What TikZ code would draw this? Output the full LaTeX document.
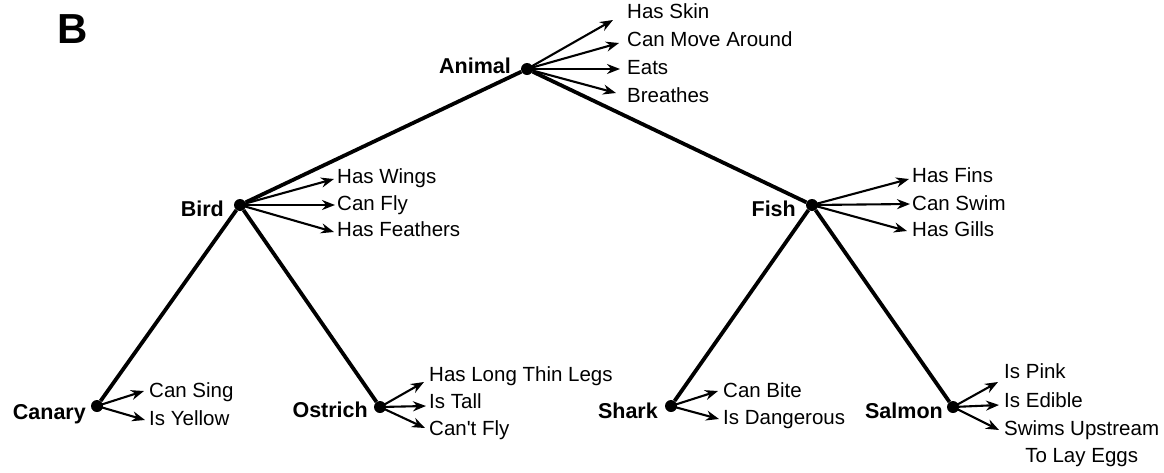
\documentclass[tikz,border=0pt]{standalone}
\usepackage{fontspec}
\setmainfont{Liberation Sans}[Ligatures=TeXOff]
\usetikzlibrary{arrows.meta}
\begin{document}
\begin{tikzpicture}[x=1pt,y=-1pt,
  dot/.style={circle,fill=black,inner sep=0pt,minimum size=12pt},
  kind/.style={font=\fontsize{21.5}{24}\selectfont\bfseries,inner sep=0pt,anchor=base east},
  prop/.style={font=\fontsize{20.5}{27}\selectfont,inner sep=0pt,anchor=base west},
  link/.style={line width=3.8pt},
  has/.style={line width=2.1pt,-{Stealth[length=13pt,width=10pt]}}]
\useasboundingbox (0,0) rectangle (1164,472);

\node[font=\fontsize{42}{46}\selectfont\bfseries,inner sep=0pt,anchor=base west] (panel) at (57,43) {B};

% category dots
\node[dot] (animal)  at (527,69) {};
\node[dot] (bird)    at (240,205) {};
\node[dot] (fish)    at (812,205) {};
\node[dot] (canary)  at (97,406) {};
\node[dot] (ostrich) at (380,407) {};
\node[dot] (shark)   at (671,406) {};
\node[dot] (salmon)  at (953,407) {};

% category names
\node[kind] (animalL)  at (511,73)  {Animal};
\node[kind] (birdL)    at (224,216) {Bird};
\node[kind] (fishL)    at (796,216) {Fish};
\node[kind] (canaryL)  at (86,419)  {Canary};
\node[kind] (ostrichL) at (368,417) {Ostrich};
\node[kind] (sharkL)   at (658,418) {Shark};
\node[kind] (salmonL)  at (943,418) {Salmon};

% hierarchy
\draw[link] (animal) -- (bird);
\draw[link] (animal) -- (fish);
\draw[link] (bird) -- (canary);
\draw[link] (bird) -- (ostrich);
\draw[link] (fish) -- (shark);
\draw[link] (fish) -- (salmon);

% properties of Animal
\node[prop] (skin)    at (627,18)  {Has Skin};
\node[prop] (move)    at (627,46)  {Can Move Around};
\node[prop] (eats)    at (627,74)  {Eats};
\node[prop] (breathe) at (627,102) {Breathes};
\coordinate (tSkin)    at (613,20);
\coordinate (tMove)    at (619,43);
\coordinate (tEats)    at (620,69);
\coordinate (tBreathe) at (616,93);
\foreach \t in {tSkin,tMove,tEats,tBreathe} \draw[has] (animal.center) -- (\t);

% properties of Bird
\node[prop] (wings)    at (337,183) {Has Wings};
\node[prop] (fly)      at (337,210) {Can Fly};
\node[prop] (feathers) at (337,236) {Has Feathers};
\coordinate (tWings)    at (334,179);
\coordinate (tFly)      at (335,205);
\coordinate (tFeathers) at (334,232);
\foreach \t in {tWings,tFly,tFeathers} \draw[has] (bird.center) -- (\t);

% properties of Fish
\node[prop] (fins)  at (912,182) {Has Fins};
\node[prop] (swim)  at (912,210) {Can Swim};
\node[prop] (gills) at (912,236) {Has Gills};
\coordinate (tFins)  at (909,179);
\coordinate (tSwim)  at (910,204);
\coordinate (tGills) at (907,231);
\foreach \t in {tFins,tSwim,tGills} \draw[has] (fish.center) -- (\t);

% properties of Canary
\node[prop] (sing)   at (149,397) {Can Sing};
\node[prop] (yellow) at (149,425) {Is Yellow};
\coordinate (tSing)   at (144,391);
\coordinate (tYellow) at (145,420);
\foreach \t in {tSing,tYellow} \draw[has] (canary.center) -- (\t);

% properties of Ostrich
\node[prop] (legs)   at (429,381) {Has Long Thin Legs};
\node[prop] (tall)   at (429,408) {Is Tall};
\node[prop] (nofly)  at (429,435) {Can't Fly};
\coordinate (tLegs)  at (424,382);
\coordinate (tTall)  at (426,406);
\coordinate (tNofly) at (425,428);
\foreach \t in {tLegs,tTall,tNofly} \draw[has] (ostrich.center) -- (\t);

% properties of Shark
\node[prop] (bite)      at (723,397) {Can Bite};
\node[prop] (dangerous) at (723,424) {Is Dangerous};
\coordinate (tBite)      at (718,391);
\coordinate (tDangerous) at (719,419);
\foreach \t in {tBite,tDangerous} \draw[has] (shark.center) -- (\t);

% properties of Salmon
\node[prop] (pink)   at (1004,378) {Is Pink};
\node[prop] (edible) at (1004,407) {Is Edible};
\node[prop,anchor=north west,align=center] (upstream) at (1004,420) {Swims Upstream\\To Lay Eggs};
\coordinate (tPink)     at (998,382);
\coordinate (tEdible)   at (999,405);
\coordinate (tUpstream) at (999,430);
\foreach \t in {tPink,tEdible,tUpstream} \draw[has] (salmon.center) -- (\t);
\end{tikzpicture}
\end{document}
